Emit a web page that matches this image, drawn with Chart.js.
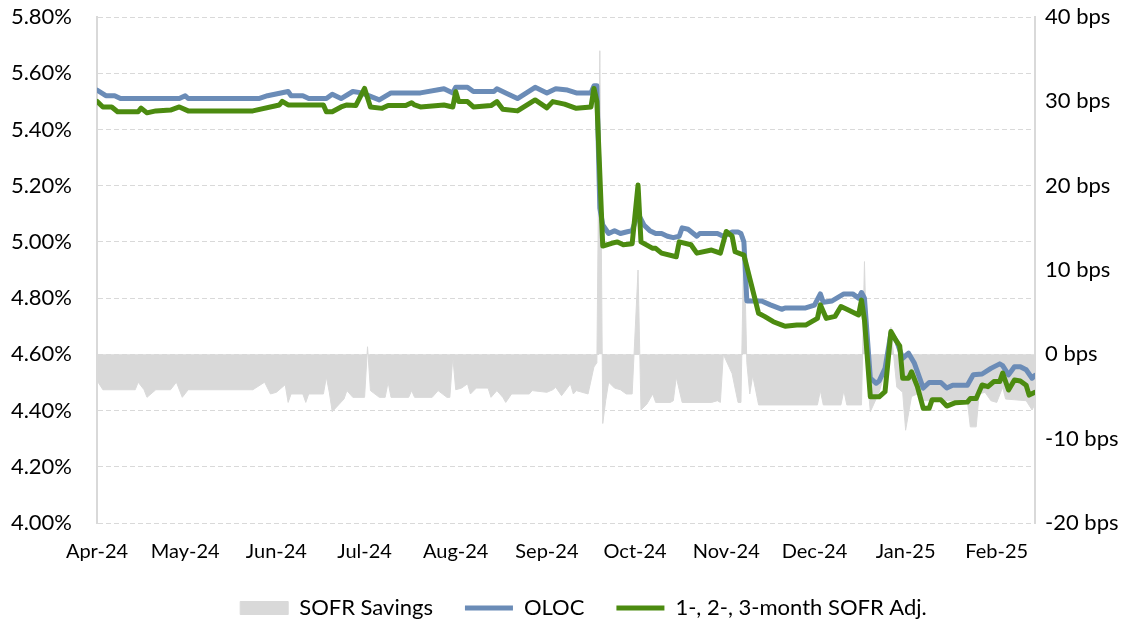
<!DOCTYPE html>
<html>
<head>
<meta charset="utf-8">
<title>OLOC vs SOFR</title>
<script src="https://cdn.jsdelivr.net/npm/chart.js@4.4.1/dist/chart.umd.min.js"></script>
<style>
  html, body { margin: 0; padding: 0; background: #fff; }
  #wrap { width: 1137px; height: 621px; }
</style>
</head>
<body>
<div id="wrap"><canvas id="rateChart" width="1137" height="621"></canvas></div>
<script>
// x values are calendar days counted from 1 Apr 2024
const monthTicks = [0, 30, 61, 91, 122, 153, 183, 214, 244, 275, 306];
const monthLabels = ['Apr-24', 'May-24', 'Jun-24', 'Jul-24', 'Aug-24', 'Sep-24',
                     'Oct-24', 'Nov-24', 'Dec-24', 'Jan-25', 'Feb-25'];

// OLOC rate, %
const olocDays = [0,3,6,8,28,30,31,55,58,65, 66,70,72,78,80,83,87,90,96,100,
  110,118,121,122,126,128,135,136,139,143, 149,153,156,160,163,168,169,170,171,172,
  174,176,178,180,182,184,186,188,190,192, 194,196,198,199,201,204,205,211,213,216,
  218,219,220,221,226,229,233,234,238,241, 244,246,247,250,254,257,259,260,261,263,
  265,266,268,270,272,274,276,278,281,283, 287,289,291,296,298,301,304,307,308,310,
  312,314,316,318,319];
const olocRate = [5.54,5.52,5.52,5.51,5.51,5.52,5.51,5.51,5.52,5.535,
  5.52,5.52,5.51,5.51,5.525,5.51,5.535,5.53,5.505,5.53,
  5.53,5.545,5.53,5.55,5.55,5.535,5.535,5.545,5.53,5.51,
  5.55,5.53,5.545,5.54,5.53,5.53,5.555,5.555,5.12,5.06,
  5.03,5.04,5.03,5.035,5.04,5.10,5.06,5.04,5.03,5.03,
  5.02,5.015,5.02,5.05,5.045,5.02,5.03,5.03,5.02,5.035,
  5.035,5.03,5.00,4.79,4.79,4.776,4.76,4.765,4.765,4.765,
  4.775,4.815,4.785,4.79,4.815,4.815,4.80,4.82,4.80,4.515,
  4.497,4.505,4.55,4.675,4.645,4.586,4.604,4.568,4.48,4.50,
  4.50,4.48,4.49,4.49,4.527,4.53,4.55,4.566,4.56,4.527,
  4.556,4.556,4.545,4.515,4.525];

// 1-, 2-, 3-month SOFR adjusted rate, %
const sofrAdjDays = [0,2,5,7,14,15,17,20,25,28, 31,53,62,63,65,77,78,80,83,85,
  88,91,93,97,99,105,107,108,110,118, 121,122,123,126,128,134,136,138,143,149,
  153,155,159,163,168,169,170,172,175,177, 179,182,184,185,189,190,192,197,198,202,
  204,209,212,214,216,217,220,225,227,230, 233,234,238,241,245,246,248,251,253,255,
  259,260,261,263,266,268,270,272,273,274, 276,277,279,281,283,284,287,289,292,296,
  297,299,301,303,305,307,308,310,312,314, 316,317,319];
const sofrAdjRate = [5.50,5.48,5.48,5.463,5.463,5.476,5.459,5.466,5.469,5.48,
  5.466,5.466,5.487,5.50,5.487,5.487,5.463,5.463,5.48,5.487,
  5.485,5.546,5.48,5.475,5.485,5.485,5.495,5.487,5.48,5.487,
  5.48,5.534,5.499,5.499,5.48,5.485,5.499,5.472,5.466,5.505,
  5.477,5.499,5.49,5.475,5.48,5.546,5.50,4.985,4.995,5.00,
  4.99,4.993,5.202,5.00,4.977,4.977,4.96,4.947,5.00,4.99,
  4.96,4.971,4.96,5.037,5.02,4.965,4.953,4.746,4.735,4.716,
  4.704,4.70,4.704,4.704,4.728,4.776,4.728,4.735,4.77,4.76,
  4.74,4.793,4.722,4.449,4.449,4.467,4.681,4.645,4.63,4.515,
  4.515,4.538,4.485,4.408,4.408,4.438,4.438,4.416,4.428,4.43,
  4.443,4.443,4.491,4.485,4.503,4.503,4.533,4.473,4.509,4.505,
  4.49,4.455,4.465];

// SOFR savings, bps (right axis)
const savingsDays = [0,2,13,14,16,17,20,25,27,29, 31,53,57,59,61,64,65,66,70,71,
  72,77,78,79,80,84,85,87,91,92, 93,96,98,99,100,106,107,108,114,116,
  119,120,121,122,124,126,127,129,133,134, 136,138,139,141,147,148,153,155,156,158,
  161,162,163,167,169,170,171,172,173,174, 176,178,180,182,184,185,187,189,190,195,
  196,197,199,209,211,212,213,216,218,219, 220,221,222,223,225,245,246,247,253,254,
  255,260,261,262,263,266,268,270,272,274, 275,277,279,281,296,297,299,300,302,304,
  306,308,309,316,318,319];
const savingsBps = [-3.1,-4.2,-4.2,-3.3,-4.2,-5.1,-4.2,-4.2,-3.3,-5.1,
  -4.2,-4.2,-3.3,-4.7,-4.5,-3.6,-5.7,-4.7,-4.7,-5.7,
  -4.7,-4.7,-2.7,-4.5,-6.8,-5.3,-4.3,-5.1,-5.1,0.9,
  -4.3,-5.1,-5.1,-3.3,-5.1,-5.1,-4.3,-5.1,-5.1,-4.3,
  -5.1,-5.1,-0.3,-4.2,-4.0,-3.5,-4.7,-4.0,-4.0,-5.1,
  -4.3,-5.1,-5.7,-4.7,-4.7,-4.3,-4.5,-4.2,-3.9,-4.9,
  -3.5,-4.7,-4.3,-4.7,-1.5,-1.0,36,-8.2,-5.5,-3.3,
  -4.0,-4.2,-4.7,-4.7,10,-6.6,-5.9,-4.7,-5.7,-5.7,
  -5.5,-2.7,-5.7,-5.7,-5.5,-5.7,0,-2.3,-5.7,-5.7,
  14,-1,-4.7,-2.5,-6.0,-6.0,-4.3,-6.0,-6.0,-4.3,
  -6.0,-6.0,11,-3,-6.8,-4.5,-2.0,3.2,-3.9,-4.5,
  -9.0,-5.0,-4.7,-5.5,-5.5,-8.6,-8.6,-4.7,-4.5,-5.5,
  -5.7,-3.9,-5.3,-5.5,-6.6,-5.9];

const toPoints = (xs, ys) => xs.map((x, i) => ({ x: x, y: ys[i] }));

const FONT = 'Lato, "Open Sans", sans-serif';
const GRID = '#d9d9d9';

// nudge the legend row a little to the right of the canvas centre
const legendShift = {
  id: 'legendShift',
  afterLayout(chart) {
    if (chart.legend) chart.legend.left += 30;
  }
};

// keep the plot top fixed regardless of the tick label overhang
const noOverhang = (scale) => {
  scale.paddingTop = 0;
  scale.paddingBottom = 0;
};

new Chart(document.getElementById('rateChart'), {
  type: 'line',
  plugins: [legendShift],
  data: {
    datasets: [
      {
        label: 'SOFR Savings',
        data: toPoints(savingsDays, savingsBps),
        yAxisID: 'y2',
        fill: 'origin',
        backgroundColor: '#d9d9d9',
        borderColor: '#d9d9d9',
        borderWidth: 1,
        pointRadius: 0,
        pointStyle: 'rect',
        tension: 0,
        order: 3
      },
      {
        label: 'OLOC',
        data: toPoints(olocDays, olocRate),
        yAxisID: 'y',
        fill: false,
        borderColor: '#6b8cb7',
        backgroundColor: '#6b8cb7',
        borderWidth: 5,
        borderCapStyle: 'round',
        borderJoinStyle: 'round',
        pointRadius: 0,
        pointStyle: 'line',
        tension: 0,
        order: 2
      },
      {
        label: '1-, 2-, 3-month SOFR Adj.',
        data: toPoints(sofrAdjDays, sofrAdjRate),
        yAxisID: 'y',
        fill: false,
        borderColor: '#4c8b10',
        backgroundColor: '#4c8b10',
        borderWidth: 5,
        borderCapStyle: 'round',
        borderJoinStyle: 'round',
        pointRadius: 0,
        pointStyle: 'line',
        tension: 0,
        order: 1
      }
    ]
  },
  options: {
    responsive: false,
    animation: false,
    devicePixelRatio: 1,
    layout: { padding: { top: 17, left: 0, right: 0, bottom: 0 } },
    plugins: {
      tooltip: { enabled: false },
      legend: {
        position: 'bottom',
        maxHeight: 56,
        labels: {
          usePointStyle: true,
          pointStyleWidth: 48,
          boxHeight: 13,
          padding: 32,
          color: '#000',
          font: { family: FONT, size: 22 },
          sort: (a, b) => a.datasetIndex - b.datasetIndex
        }
      }
    },
    scales: {
      x: {
        type: 'linear',
        min: 0,
        max: 319,
        grid: { display: false, drawTicks: false },
        border: { display: false },
        afterBuildTicks: (scale) => {
          scale.ticks = monthTicks.map(v => ({ value: v }));
        },
        afterFit: (scale) => { scale.height = 42; },
        ticks: {
          autoSkip: false,
          maxRotation: 0,
          padding: 17,
          color: '#000',
          font: { family: FONT, size: 20 },
          callback: (v) => {
            const i = monthTicks.indexOf(v);
            return i >= 0 ? monthLabels[i] : '';
          }
        }
      },
      y: {
        position: 'left',
        min: 4.0,
        max: 5.8,
        afterFit: (scale) => { scale.width = 97; noOverhang(scale); },
        grid: { color: GRID, lineWidth: 1, drawTicks: false },
        border: { display: true, color: GRID, width: 2, dash: [5, 3] },
        ticks: {
          stepSize: 0.2,
          padding: 25,
          color: '#000',
          font: { family: FONT, size: 22 },
          callback: (v) => v.toFixed(2) + '%'
        }
      },
      y2: {
        position: 'right',
        min: -20,
        max: 40,
        afterFit: (scale) => { scale.width = 102; noOverhang(scale); },
        grid: { display: false, drawTicks: false },
        border: { display: true, color: GRID, width: 2 },
        ticks: {
          stepSize: 10,
          padding: 10,
          color: '#000',
          font: { family: FONT, size: 22 },
          callback: (v) => v + ' bps'
        }
      }
    }
  }
});
</script>
</body>
</html>
